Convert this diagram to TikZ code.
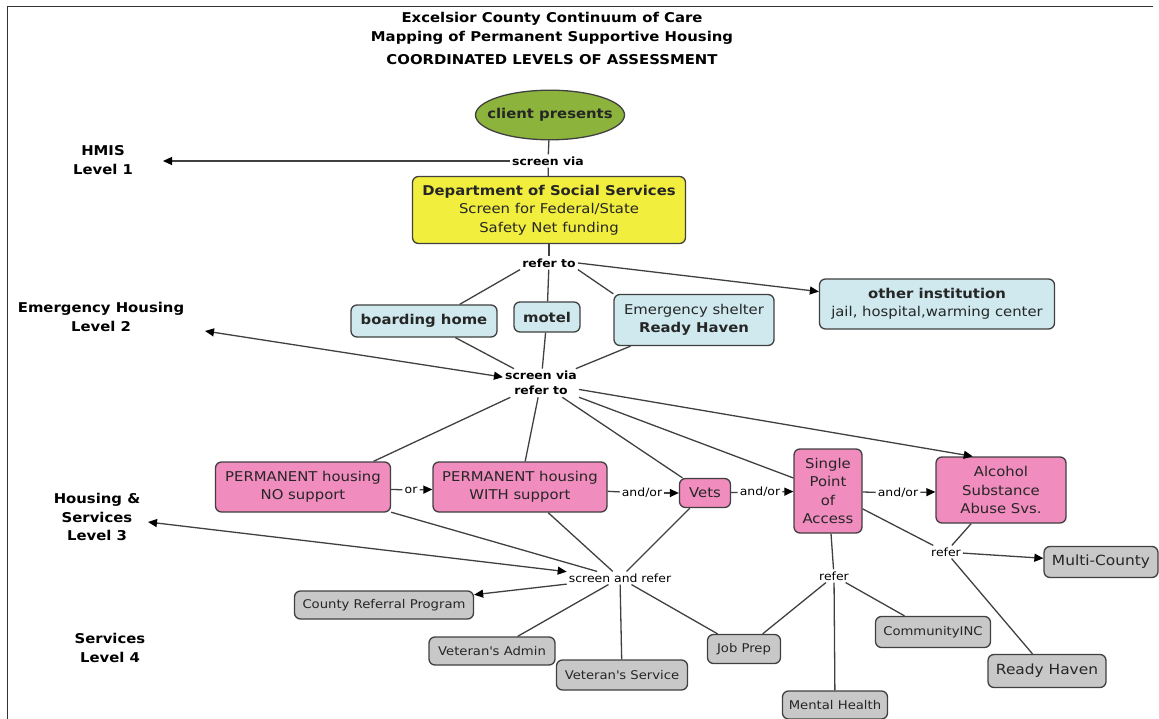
\documentclass[tikz,border=0pt]{standalone}
\usepackage{fontspec}
\setmainfont{DejaVu Sans}[FakeStretch=1.1]
\usetikzlibrary{arrows.meta,shapes.geometric}

\definecolor{clientgreen}{RGB}{140,180,60}
\definecolor{dssyellow}{RGB}{242,238,62}
\definecolor{shelterblue}{RGB}{207,233,238}
\definecolor{housepink}{RGB}{240,140,190}
\definecolor{svcgrey}{RGB}{200,200,200}
\definecolor{edge}{RGB}{64,64,64}

\begin{document}
\begin{tikzpicture}[x=1pt,y=-1pt,%pixel units, y down
  box/.style={draw=edge,line width=1.3pt,rounded corners=6pt,align=center,inner sep=1pt,text=black!85,
    font=\fontsize{13.5}{18.5}\selectfont},
  bluebox/.style={box,fill=shelterblue},
  pinkbox/.style={box,fill=housepink},
  greybox/.style={box,fill=svcgrey,font=\fontsize{12}{15}\selectfont},
  lvl/.style={align=center,font=\fontsize{13.5}{18.5}\selectfont\bfseries},
  lbl/.style={align=center,inner sep=2pt,font=\fontsize{11.3}{15.5}\selectfont},
  blbl/.style={lbl,font=\fontsize{11.3}{15.5}\selectfont\bfseries},
  link/.style={draw=edge,line width=1.3pt},
  arr/.style={link,-{Triangle[length=9pt,width=8pt,black]}},
  both/.style={link,{Triangle[length=9pt,width=8pt,black]}-{Triangle[length=9pt,width=8pt,black]}}]
\useasboundingbox (0,0) rectangle (1159,719);
\draw [line width=1pt,black!80] (1153,7) -- (7,7) -- (7,719);

% title
\node [lvl] (t1) at (552,19) {Excelsior County Continuum of Care};
\node [lvl] (t2) at (552,38) {Mapping of Permanent Supportive Housing};
\node [lvl] (t3) at (552,60) {COORDINATED LEVELS OF ASSESSMENT};

% levels
\node [lvl] (hmis) at (103,160) {HMIS\\Level 1};
\node [lvl] (eh) at (101,317) {Emergency Housing\\Level 2};
\node [lvl] (hs) at (97,517) {Housing \&\\Services\\Level 3};
\node [lvl] (sv) at (110,648) {Services\\Level 4};
\coordinate (l1) at (163,161);
\coordinate (l2) at (205,331);
\coordinate (l3) at (148,522);

% level 1
\node [draw=edge,line width=1.3pt,ellipse,fill=clientgreen,inner xsep=-10pt,inner ysep=11pt,
  font=\fontsize{13.5}{18.5}\selectfont\bfseries,text=black!85] (client) at (550,115) {client presents};
\node [blbl] (sv1) at (548,161) {screen via};
\node [box,fill=dssyellow,minimum width=273,minimum height=67] (dss) at (549,210)
  {\textbf{Department of Social Services}\\Screen for Federal/State\\Safety Net funding};
\node [blbl] (rt1) at (549,263) {refer to};

% level 2
\node [bluebox,minimum width=146,minimum height=32] (board) at (424,321) {\textbf{boarding home}};
\node [bluebox,minimum width=66,minimum height=30] (motel) at (547,317) {\textbf{motel}};
\node [bluebox,minimum width=160,minimum height=51] (shelter) at (694,320) {Emergency shelter\\\textbf{Ready Haven}};
\node [bluebox,minimum width=235,minimum height=50] (inst) at (937,304) {\textbf{other institution}\\jail, hospital,warming center};
\node [blbl] (sv2) at (541,383) {screen via\\refer to};

% level 3
\node [pinkbox,minimum width=175,minimum height=50] (pno) at (303,487) {PERMANENT housing\\NO support};
\node [pinkbox,minimum width=174,minimum height=50] (pwith) at (520,487) {PERMANENT housing\\WITH support};
\node [pinkbox,minimum width=51,minimum height=29] (vets) at (705,493) {Vets};
\node [pinkbox,minimum width=68,minimum height=84] (spa) at (828,491) {Single\\Point\\of\\Access};
\node [pinkbox,minimum width=130,minimum height=66] (alc) at (1001,490) {Alcohol\\Substance\\Abuse Svs.};
\node [lbl] (or) at (411,490) {or};
\node [lbl] (ao1) at (642,493) {and/or};
\node [lbl] (ao2) at (760,492) {and/or};
\node [lbl] (ao3) at (898,493) {and/or};
\node [lbl] (sr) at (620,578) {screen and refer};
\node [lbl] (ref1) at (834,576) {refer};
\node [lbl] (ref2) at (946,552) {refer};

% level 4
\node [greybox,minimum width=179,minimum height=28] (crp) at (384,605) {County Referral Program};
\node [greybox,minimum width=126,minimum height=28] (va) at (492,651) {Veteran\textquotesingle s Admin};
\node [greybox,minimum width=131,minimum height=30] (vs) at (622,675) {Veteran\textquotesingle s Service};
\node [greybox,minimum width=73,minimum height=29] (jp) at (744,649) {Job Prep};
\node [greybox,minimum width=105,minimum height=28] (mh) at (835,705) {Mental Health};
\node [greybox,minimum width=115,minimum height=31] (ci) at (933,632) {CommunityINC};
\node [greybox,minimum width=114,minimum height=31,font=\fontsize{14}{17}\selectfont] (mc) at (1101,562) {Multi-County};
\node [greybox,minimum width=118,minimum height=33,font=\fontsize{14}{17}\selectfont] (rh) at (1047,671) {Ready Haven};

% connectors
\draw [link] (client) -- (sv1) -- (dss);
\draw [arr] (sv1) -- (l1);
\draw [link] (dss) -- (rt1);
\draw [link] (rt1.south west) -- (board.25);
\draw [link] (rt1) -- (motel);
\draw [link] (rt1.south east) -- (shelter.north west);
\draw [arr] (rt1.east) -- (inst.174);
\draw [link] (board) -- (sv2);
\draw [link] (motel) -- (sv2);
\draw [link] (shelter) -- (sv2);
\draw [both] (l2) -- (sv2);

\draw [link] (sv2) -- (pno.20);
\draw [link] (sv2) -- (pwith);
\draw [link] (sv2) -- (vets);
\draw [link] (sv2) -- (spa);
\draw [arr] (sv2) -- (alc.130);
\draw [link] (pno) -- (or);
\draw [arr] (or) -- (pwith);
\draw [link] (pwith) -- (ao1);
\draw [arr] (ao1) -- (vets);
\draw [link] (vets) -- (ao2);
\draw [arr] (ao2) -- (spa);
\draw [link] (spa) -- (ao3);
\draw [arr] (ao3) -- (alc);

\draw [link] (pno) -- (sr);
\draw [link] (pwith) -- (sr);
\draw [link] (vets) -- (sr);
\draw [both] (l3) -- (sr);
\draw [arr] (sr) -- (crp);
\draw [link] (sr) -- (va);
\draw [link] (sr) -- (vs);
\draw [link] (sr) -- (jp);

\draw [link] (spa) -- (ref1);
\draw [link] (ref1) -- (jp);
\draw [link] (ref1) -- (mh);
\draw [link] (ref1) -- (ci);
\draw [link] (spa) -- (ref2);
\draw [link] (alc) -- (ref2);
\draw [arr] (ref2) -- (mc);
\draw [link] (ref2) -- (rh);
\end{tikzpicture}
\end{document}
